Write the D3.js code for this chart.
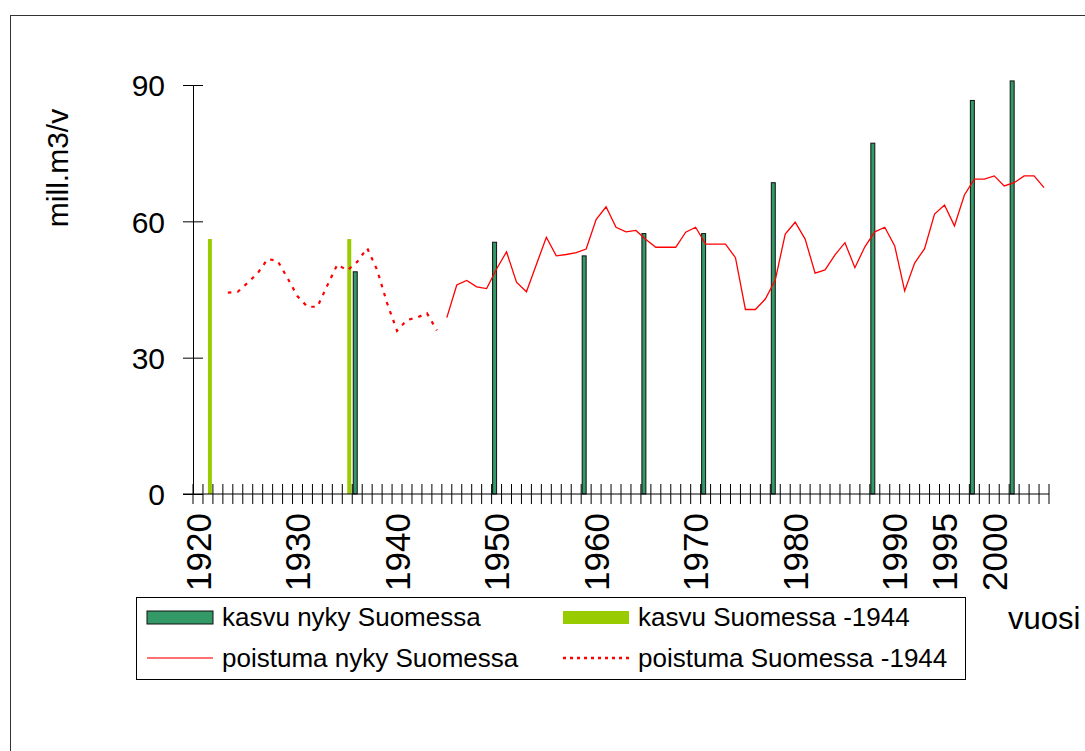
<!DOCTYPE html>
<html>
<head>
<meta charset="utf-8">
<script src="https://cdn.jsdelivr.net/npm/d3@7"></script>
<style>
  body { margin: 0; background: #fff; }
  text { font-family: "Liberation Sans", Arial, sans-serif; fill: #000; }
</style>
</head>
<body>
<svg id="chart" width="1085" height="751"></svg>
<script>
// categories: one per year on the x axis
const years = d3.range(1920, 2006)
const labelYears = [1920, 1930, 1940, 1950, 1960, 1970, 1980, 1990, 1995, 2000]
const yTicks = [0, 30, 60, 90]

// kasvu nyky Suomessa (bars)
const kasvuNykyYears = [1936, 1950, 1959, 1965, 1971, 1978, 1988, 1998, 2002]
const kasvuNyky = [48.9, 55.4, 52.4, 57.3, 57.3, 68.5, 77.2, 86.6, 90.9]

// kasvu Suomessa -1944 (bars)
const kasvuVanhaYears = [1921, 1935]
const kasvuVanha = [56.1, 56.1]

// poistuma Suomessa -1944 (dotted line), 1923-1944
const poistumaVanhaYears = d3.range(1923, 1945)
const poistumaVanha = [44.3, 44.5, 46.5, 48.6, 51.7, 51.3, 47.5, 43.5, 41.2, 41.2, 45.9,
  50.5, 49.2, 51.1, 54.1, 49.3, 42.0, 35.9, 38.3, 38.8, 39.8, 36.0]

// poistuma nyky Suomessa (solid line), 1945-2005
const poistumaNykyYears = d3.range(1945, 2006)
const poistumaNyky = [38.8, 46.0, 47.0, 45.6, 45.2, 49.5, 53.3, 46.6, 44.5, 50.5,
  56.5, 52.4, 52.7, 53.1, 53.9, 60.4, 63.2, 58.7, 57.7, 58.0,
  56.0, 54.3, 54.3, 54.3, 57.6, 58.7, 55.0, 55.0, 55.0, 52.0,
  40.6, 40.6, 42.9, 47.1, 57.2, 59.8, 56.1, 48.6, 49.3, 52.6,
  55.3, 49.8, 54.4, 57.7, 58.7, 54.6, 44.7, 50.8, 54.0, 61.6,
  63.6, 59.0, 65.8, 69.3, 69.3, 70.0, 67.8, 68.5, 70.0, 70.0, 67.4]

const legendItems = [
  { label: 'kasvu nyky Suomessa', type: 'bar', color: '#339966', stroke: '#111' },
  { label: 'kasvu Suomessa -1944', type: 'bar', color: '#99cc00', stroke: 'none' },
  { label: 'poistuma nyky Suomessa', type: 'line', color: '#ff0000', dash: null },
  { label: 'poistuma Suomessa -1944', type: 'line', color: '#ff0000', dash: '3,4' }
]

const svg = d3.select('#chart')

// outer chart frame
svg.append('rect')
  .attr('x', 10.5).attr('y', 15.5)
  .attr('width', 1100).attr('height', 800)
  .attr('fill', 'none')
  .attr('stroke', '#333')

const plot = { left: 193, right: 1049, top: 85, bottom: 494 }

const xScale = d3.scaleBand()
  .domain(years)
  .range([plot.left, plot.right])

const seriesScale = d3.scaleBand()
  .domain(['nyky', 'vanha'])
  .range([0, xScale.bandwidth()])
  .paddingOuter(0.25)

const yScale = d3.scaleLinear()
  .domain([0, 90])
  .range([plot.bottom, plot.top])

const cx = yr => xScale(yr) + xScale.bandwidth() / 2

// bars
const nykyData = kasvuNykyYears.map((yr, i) => ({ yr, v: kasvuNyky[i] }))
const vanhaData = kasvuVanhaYears.map((yr, i) => ({ yr, v: kasvuVanha[i] }))

svg.append('g').selectAll('rect')
  .data(vanhaData)
  .enter()
  .append('rect')
  .attr('x', d => xScale(d.yr) + seriesScale('vanha'))
  .attr('y', d => yScale(d.v))
  .attr('width', seriesScale.bandwidth())
  .attr('height', d => yScale(0) - yScale(d.v))
  .attr('fill', '#99cc00')

svg.append('g').selectAll('rect')
  .data(nykyData)
  .enter()
  .append('rect')
  .attr('x', d => xScale(d.yr) + seriesScale('nyky'))
  .attr('y', d => yScale(d.v))
  .attr('width', seriesScale.bandwidth())
  .attr('height', d => yScale(0) - yScale(d.v))
  .attr('fill', '#339966')
  .attr('stroke', '#111')
  .attr('stroke-width', 1)

// lines
const line = d3.line()
  .x(d => cx(d.yr))
  .y(d => yScale(d.v))

svg.append('path')
  .datum(poistumaVanhaYears.map((yr, i) => ({ yr, v: poistumaVanha[i] })))
  .attr('d', line)
  .attr('fill', 'none')
  .attr('stroke', '#ff0000')
  .attr('stroke-width', 2.2)
  .attr('stroke-dasharray', '3.5,6')

svg.append('path')
  .datum(poistumaNykyYears.map((yr, i) => ({ yr, v: poistumaNyky[i] })))
  .attr('d', line)
  .attr('fill', 'none')
  .attr('stroke', '#ff0000')
  .attr('stroke-width', 1.3)

// y axis
const yAxis = svg.append('g')
  .attr('transform', 'translate(' + plot.left + ',0)')
  .call(d3.axisLeft(yScale).tickValues(yTicks).tickSizeInner(10).tickSizeOuter(0).tickPadding(18))
yAxis.select('.domain').attr('stroke', '#000')
yAxis.selectAll('.tick line').attr('x1', 10).attr('stroke', '#000')
yAxis.selectAll('.tick text')
  .attr('font-size', '30px')
  .attr('font-family', '"Liberation Sans", Arial, sans-serif')
  .attr('dy', '0.36em')

// x axis line + tick marks on category edges
svg.append('line')
  .attr('x1', 183).attr('x2', plot.right)
  .attr('y1', yScale(0)).attr('y2', yScale(0))
  .attr('stroke', '#000')

svg.append('g').selectAll('line')
  .data(years.concat(['end']))
  .enter()
  .append('line')
  .attr('x1', d => d === 'end' ? plot.right : xScale(d))
  .attr('x2', d => d === 'end' ? plot.right : xScale(d))
  .attr('y1', yScale(0) - 10)
  .attr('y2', yScale(0) + 10)
  .attr('stroke', '#000')

const xAxis = svg.append('g')
  .attr('transform', 'translate(0,' + yScale(0) + ')')
  .call(d3.axisBottom(xScale).tickValues(labelYears).tickSize(0))
xAxis.select('.domain').remove()
xAxis.selectAll('.tick text')
  .attr('font-size', '35px')
  .attr('font-family', '"Liberation Sans", Arial, sans-serif')
  .attr('transform', 'rotate(-90)')
  .attr('text-anchor', 'end')
  .attr('x', -19)
  .attr('y', 0)
  .attr('dy', '0.36em')

// axis titles
svg.append('text')
  .attr('transform', 'translate(68,168) rotate(-90)')
  .attr('text-anchor', 'middle')
  .attr('font-size', '30px')
  .text('mill.m3/v')

svg.append('text')
  .attr('x', 1008).attr('y', 629)
  .attr('font-size', '31px')
  .text('vuosi')

// legend
const legend = svg.append('g')
legend.append('rect')
  .attr('x', 136.5).attr('y', 597.5)
  .attr('width', 829).attr('height', 82)
  .attr('fill', '#fff')
  .attr('stroke', '#000')

const legendPos = [
  { x: 147, y: 617 }, { x: 563, y: 617 },
  { x: 147, y: 658 }, { x: 563, y: 658 }
]

legendItems.forEach((item, i) => {
  const p = legendPos[i]
  if (item.type === 'bar') {
    legend.append('rect')
      .attr('x', p.x).attr('y', p.y - 6)
      .attr('width', 66).attr('height', 13)
      .attr('fill', item.color)
      .attr('stroke', item.stroke)
  } else {
    legend.append('line')
      .attr('x1', p.x).attr('x2', p.x + 66)
      .attr('y1', p.y).attr('y2', p.y)
      .attr('stroke', item.color)
      .attr('stroke-width', item.dash ? 2.5 : 1.5)
      .attr('stroke-opacity', item.dash ? 1 : 0.75)
      .attr('stroke-dasharray', item.dash)
  }
  legend.append('text')
    .attr('x', p.x + 75).attr('y', p.y + 9)
    .attr('font-size', '26px')
    .text(item.label)
})
</script>
</body>
</html>
